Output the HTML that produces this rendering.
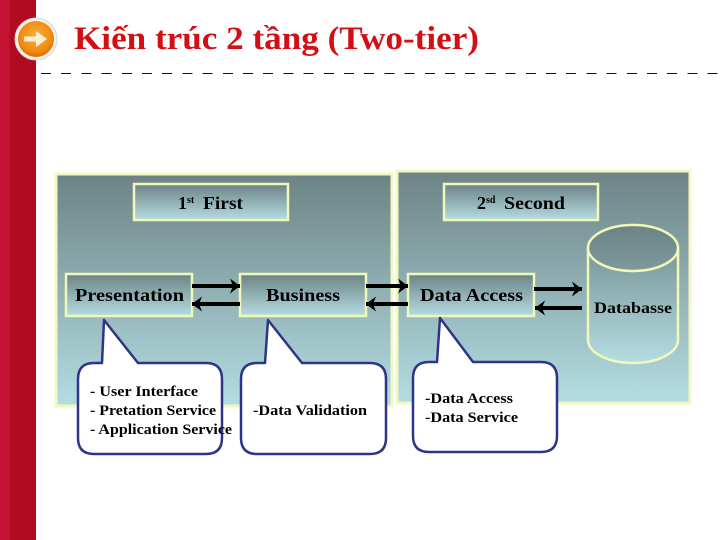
<!DOCTYPE html>
<html><head><meta charset="utf-8">
<style>
html,body{margin:0;padding:0;background:#fff;width:720px;height:540px;overflow:hidden}
svg{display:block}
text{font-family:"Liberation Serif",serif;font-weight:bold;fill:#000}
</style></head><body>
<svg width="720" height="540" viewBox="0 0 720 540" xmlns="http://www.w3.org/2000/svg">
<defs>
<linearGradient id="g" x1="0" y1="0" x2="0" y2="1"><stop offset="0" stop-color="#6c8385"/><stop offset="1" stop-color="#b4dde2"/></linearGradient>
<linearGradient id="e" x1="0" y1="0" x2="0" y2="1"><stop offset="0" stop-color="#6c8385"/><stop offset="1" stop-color="#7e9a9c"/></linearGradient>
<linearGradient id="c" x1="0" y1="0" x2="0" y2="1"><stop offset="0" stop-color="#7a9698"/><stop offset="1" stop-color="#b4dde2"/></linearGradient>
<radialGradient id="o" cx="0.5" cy="0.42" r="0.6"><stop offset="0" stop-color="#fbb03a"/><stop offset="0.7" stop-color="#f28c14"/><stop offset="1" stop-color="#d96a08"/></radialGradient>
<marker id="a" markerUnits="userSpaceOnUse" markerWidth="14" markerHeight="18" refX="13" refY="9" orient="auto"><path d="M3 1.5 L13 9 L3 16.5 L6 9 Z" fill="#000"/></marker>
</defs>
<rect x="0" y="0" width="10" height="540" fill="#c51232"/>
<rect x="10" y="0" width="26" height="540" fill="#b00b20"/>
<circle cx="36" cy="39" r="21" fill="#f4efe9" stroke="#d8d8d8"/>
<circle cx="36" cy="39" r="18" fill="url(#o)"/>
<path d="M24 36.5 H36 V31 L47 39 L36 47 V41.5 H24 Z" fill="#fdf0d0"/>
<text x="74" y="49" font-size="33" style="fill:#d40f14" textLength="405" lengthAdjust="spacingAndGlyphs">Kiến trúc 2 tầng (Two-tier)</text>
<line x1="41" y1="73.5" x2="718" y2="73.5" stroke="#111" stroke-width="1" stroke-dasharray="10 10.2" shape-rendering="crispEdges"/>

<rect x="56" y="174" width="336" height="232" fill="url(#g)" stroke="#f2f8c0" stroke-width="3"/>
<rect x="397" y="171" width="293" height="232" fill="url(#g)" stroke="#f2f8c0" stroke-width="3"/>

<g stroke="#f2f8b8" stroke-width="2.5" fill="url(#g)">
<rect x="134" y="184" width="154" height="36"/>
<rect x="444" y="184" width="154" height="36"/>
<rect x="66" y="274" width="126" height="42"/>
<rect x="240" y="274" width="126" height="42"/>
<rect x="408" y="274" width="126" height="42"/>
<path d="M588 248 V340 A45 23 0 0 0 678 340 V248" fill="url(#c)"/>
<ellipse cx="633" cy="248" rx="45" ry="23" fill="url(#e)"/>
</g>

<g stroke="#000" stroke-width="4" fill="none">
<line x1="192" y1="286" x2="240" y2="286" marker-end="url(#a)"/>
<line x1="240" y1="304" x2="192" y2="304" marker-end="url(#a)"/>
<line x1="366" y1="286" x2="408" y2="286" marker-end="url(#a)"/>
<line x1="408" y1="304" x2="366" y2="304" marker-end="url(#a)"/>
<line x1="534" y1="289" x2="582" y2="289" marker-end="url(#a)"/>
<line x1="582" y1="308" x2="535" y2="308" marker-end="url(#a)"/>
</g>

<g fill="#fff" stroke="#2e3586" stroke-width="2.5" stroke-linejoin="round">
<path d="M104 320 L102 363 H94 Q78 363 78 379 V438 Q78 454 94 454 H206 Q222 454 222 438 V379 Q222 363 206 363 H138 Z"/>
<path d="M268 320 L265 363 H257 Q241 363 241 379 V438 Q241 454 257 454 H370 Q386 454 386 438 V379 Q386 363 370 363 H302 Z"/>
<path d="M440 318 L437 362 H429 Q413 362 413 378 V436 Q413 452 429 452 H541 Q557 452 557 436 V378 Q557 362 541 362 H473 Z"/>
</g>

<text x="178" y="209" font-size="18">1</text><text x="187" y="203" font-size="10">st</text>
<text x="203" y="209" font-size="18" textLength="40" lengthAdjust="spacingAndGlyphs">First</text>
<text x="477" y="209" font-size="18">2</text><text x="486" y="203" font-size="10">sd</text>
<text x="504" y="209" font-size="18" textLength="61" lengthAdjust="spacingAndGlyphs">Second</text>
<text x="75" y="301" font-size="18" textLength="109" lengthAdjust="spacingAndGlyphs">Presentation</text>
<text x="266" y="301" font-size="18" textLength="74" lengthAdjust="spacingAndGlyphs">Business</text>
<text x="420" y="301" font-size="18" textLength="103" lengthAdjust="spacingAndGlyphs">Data Access</text>
<text x="594" y="313" font-size="16" textLength="78" lengthAdjust="spacingAndGlyphs">Databasse</text>
<text x="90" y="396" font-size="15" textLength="108" lengthAdjust="spacingAndGlyphs">- User Interface</text>
<text x="90" y="415" font-size="15" textLength="126" lengthAdjust="spacingAndGlyphs">- Pretation Service</text>
<text x="90" y="434" font-size="15" textLength="142" lengthAdjust="spacingAndGlyphs">- Application Service</text>
<text x="253" y="415" font-size="15" textLength="114" lengthAdjust="spacingAndGlyphs">-Data Validation</text>
<text x="425" y="403" font-size="15" textLength="88" lengthAdjust="spacingAndGlyphs">-Data Access</text>
<text x="425" y="422" font-size="15" textLength="93" lengthAdjust="spacingAndGlyphs">-Data Service</text>
</svg>
</body></html>
